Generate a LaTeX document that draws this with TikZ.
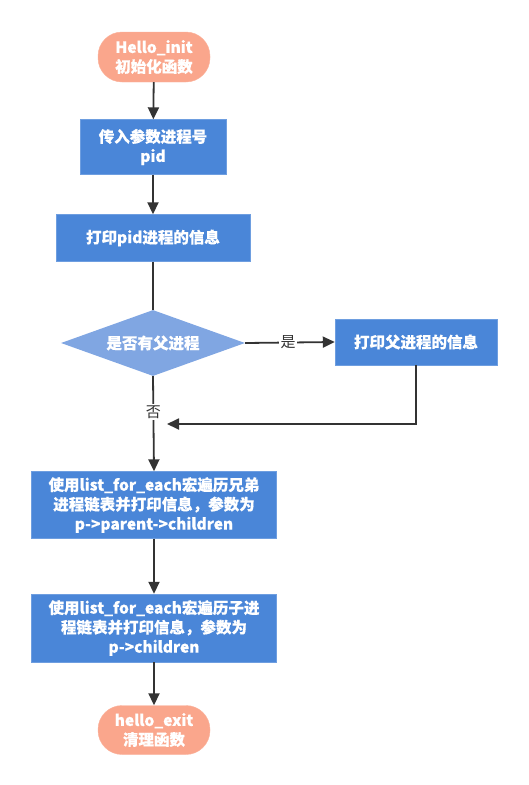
\documentclass[tikz,border=0pt]{standalone}
\usepackage{fontspec}
\setmainfont{Noto Sans CJK SC}[FakeBold=0.35]
\newfontfamily\labelfont{Noto Sans CJK SC}
\usetikzlibrary{arrows.meta,shapes.geometric}
\definecolor{stepblue}{RGB}{74,134,216}
\definecolor{decblue}{RGB}{128,166,226}
\definecolor{termsalmon}{RGB}{250,166,140}
\definecolor{linkgray}{RGB}{51,51,51}
\begin{document}
\begin{tikzpicture}[x=1pt,y=-1pt,
  every node/.style={font=\fontsize{15.5}{19.5}\selectfont\bfseries, align=center, inner sep=0pt},
  term/.style={fill=termsalmon, draw=termsalmon!85!white, text=white, rounded corners=24pt,
    minimum width=112pt, minimum height=50pt},
  stepbox/.style={fill=stepblue, draw=stepblue!80!white, text=white},
  decision/.style={diamond, aspect=2.8, fill=decblue, text=white,
    minimum width=184pt, minimum height=66pt, inner sep=0pt},
  link/.style={draw=linkgray, line width=1.8pt},
  arr/.style={link, -{Triangle[length=12pt,width=11pt]}},
  edgelabel/.style={fill=white, text=linkgray, inner sep=1.5pt,
    font=\fontsize{15}{18}\labelfont}
]
\useasboundingbox (0,0) rectangle (528,785);

\node[term] (start) at (154,57) {Hello\_init\\初始化函数};
\node[stepbox, minimum width=146pt, minimum height=55pt] (b1) at (153,147) {传入参数进程号\\pid};
\node[stepbox, minimum width=194pt, minimum height=47pt] (b2) at (153,238) {打印pid进程的信息};
\node[decision] (dec) at (153,343) {是否有父进程};
\node[stepbox, minimum width=162pt, minimum height=46pt] (b3) at (416,342) {打印父进程的信息};
\node[stepbox, minimum width=245pt, minimum height=67pt] (b4) at (154,505)
  {使用list\_for\_each宏遍历兄弟\\进程链表并打印信息，参数为\\p->parent->children};
\node[stepbox, minimum width=245pt, minimum height=68pt] (b5) at (154,628)
  {使用list\_for\_each宏遍历子进\\程链表并打印信息，参数为\\p->children};
\node[term, minimum height=49pt] (stop) at (154,730) {hello\_exit\\清理函数};

\coordinate (merge) at (167,424);

\draw[arr] (start) -- (b1);
\draw[arr] (b1) -- (b2);
\draw[link] (b2) -- (dec.north);
\draw[arr] (dec.east) -- node[edgelabel, pos=0.48] {是} (b3.west);
\draw[arr] (b3.south) |- (merge);
\draw[arr] (dec.south) -- node[edgelabel, pos=0.38] {否} (b4.north);
\draw[arr] (b4) -- (b5);
\draw[arr] (b5) -- (stop);
\end{tikzpicture}
\end{document}
